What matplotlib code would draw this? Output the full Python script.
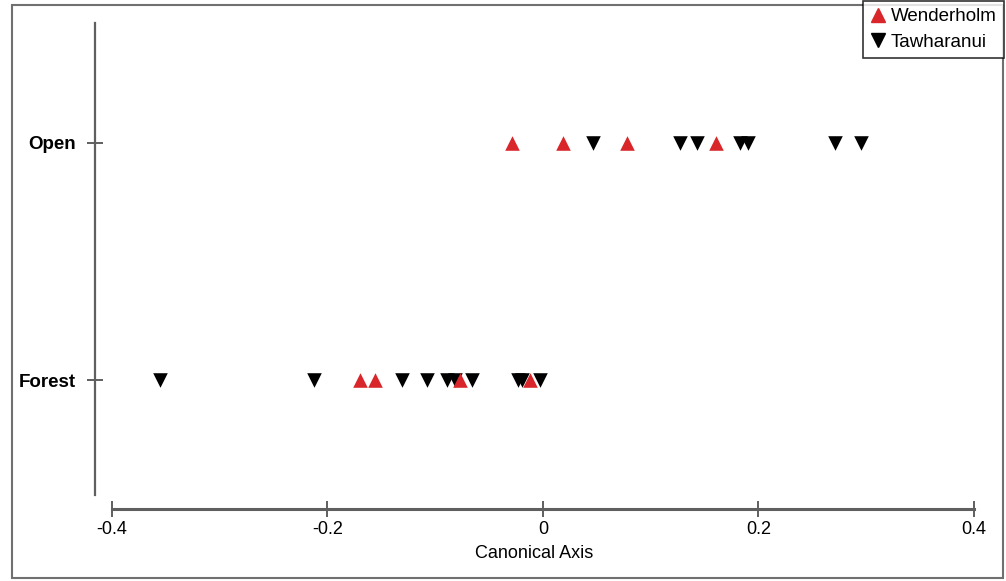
import matplotlib
matplotlib.use("Agg")
import matplotlib.pyplot as plt
from matplotlib.lines import Line2D
from matplotlib.patches import Rectangle

plt.rcParams["font.family"] = ["Liberation Sans", "DejaVu Sans"]

# canonical scores per habitat and site
habitats = ["Forest", "Open"]
wenderholm_open = [-0.029, 0.019, 0.078, 0.161]
tawharanui_open = [0.046, 0.127, 0.143, 0.183, 0.190, 0.271, 0.295]
wenderholm_forest = [-0.170, -0.156, -0.077, -0.012]
tawharanui_forest = [-0.355, -0.212, -0.131, -0.108, -0.089, -0.082, -0.066,
                     -0.023, -0.019, -0.003]
xticks = [-0.4, -0.2, 0.0, 0.2, 0.4]
xticklabels = ["-0.4", "-0.2", "0", "0.2", "0.4"]

RED = "#d8262a"
GREY = "#5f5f5f"

fig = plt.figure(figsize=(10.06, 5.81), dpi=100)
ax = fig.add_axes([0.0944, 0.1239, 0.8738, 0.8365])

ax.scatter(tawharanui_forest, [0] * len(tawharanui_forest), marker="v", s=110,
           color="black", zorder=3, linewidths=0)
ax.scatter(wenderholm_forest, [0] * len(wenderholm_forest), marker="^", s=110,
           color=RED, zorder=4, linewidths=0)
ax.scatter(tawharanui_open, [1] * len(tawharanui_open), marker="v", s=110,
           color="black", zorder=3, linewidths=0)
ax.scatter(wenderholm_open, [1] * len(wenderholm_open), marker="^", s=110,
           color=RED, zorder=4, linewidths=0)

ax.set_xlim(-0.4157, 0.4)
ax.set_ylim(-0.544, 1.506)

for side in ["top", "right"]:
    ax.spines[side].set_visible(False)
ax.spines["left"].set_color(GREY)
ax.spines["left"].set_linewidth(1.6)
ax.spines["left"].set_bounds(-0.485, 1.506)
ax.spines["bottom"].set_color(GREY)
ax.spines["bottom"].set_linewidth(2.2)
ax.spines["bottom"].set_bounds(-0.4, 0.4)

ax.set_xticks(xticks)
ax.set_xticklabels(xticklabels, fontsize=13)
ax.set_yticks([0, 1])
ax.set_yticklabels(habitats, fontsize=13.5, fontweight="bold")
ax.tick_params(axis="x", direction="inout", length=11.5, width=1.4, color=GREY, pad=3)
ax.tick_params(axis="y", direction="inout", length=12, width=1.4, color=GREY, pad=8)
ax.set_xlabel("Canonical Axis", fontsize=13, labelpad=5)

handles = [
    Line2D([], [], marker="^", linestyle="none", color=RED, markersize=10),
    Line2D([], [], marker="v", linestyle="none", color="black", markersize=10),
]
leg = fig.legend(handles, ["Wenderholm", "Tawharanui"], loc="upper right",
                 bbox_to_anchor=(0.998, 0.999), fontsize=13.5, frameon=True,
                 fancybox=False, handlelength=0.8, handletextpad=0.25,
                 borderpad=0.4, labelspacing=0.45, borderaxespad=0)
leg.get_frame().set_edgecolor("black")
leg.get_frame().set_linewidth(1.2)

# outer frame around the whole figure
fig.patches.append(Rectangle((12 / 1006, 3 / 581), 991 / 1006, 573 / 581,
                             transform=fig.transFigure, fill=False,
                             edgecolor="#707070", linewidth=1.5, zorder=0))

fig.savefig("out.png", dpi=100)
